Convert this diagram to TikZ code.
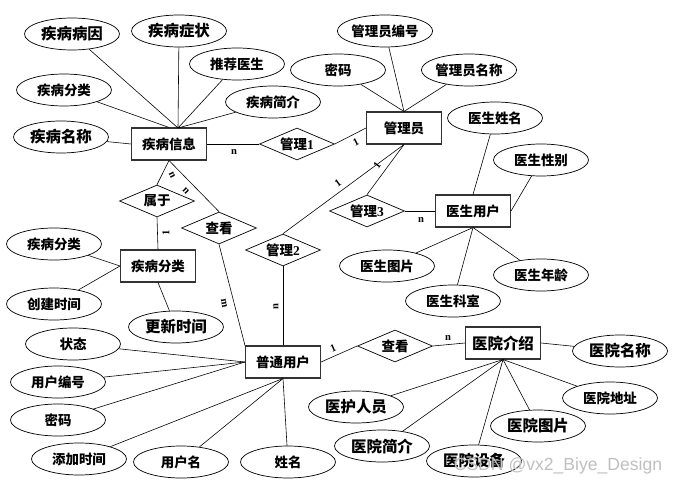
\documentclass[tikz,border=0pt]{standalone}
\usepackage{fontspec}
\setmainfont{Liberation Serif}
\newfontfamily\cjk{Noto Sans CJK SC}
\newfontfamily\wmfont{Liberation Sans}
\usetikzlibrary{shapes.geometric}

\begin{document}
\begin{tikzpicture}[x=0.03cm, y=-0.03cm,
  entity/.style={draw=black!80, line width=0.9pt, minimum width=2.25cm, minimum height=0.96cm, inner sep=0pt, font=\cjk\bfseries\fontsize{11.5}{13}\selectfont},
  attr/.style={draw, ellipse, line width=0.6pt, minimum width=2.85cm, minimum height=0.96cm, inner sep=0pt, font=\cjk\bfseries\fontsize{11.5}{13}\selectfont},
  big/.style={font=\cjk\bfseries\fontsize{13.2}{15}\selectfont},
  rel/.style={draw, diamond, aspect=2.3, line width=0.6pt, minimum width=2.25cm, minimum height=0.96cm, inner sep=0pt, font=\cjk\bfseries\fontsize{11.5}{13}\selectfont},
  card/.style={font=\bfseries\fontsize{9}{10}\selectfont, inner sep=0pt},
  link/.style={line width=0.5pt}]
  \useasboundingbox (0,0) rectangle (682,486);

  % entities
  \node[entity] (jbxx) at (169,144) {疾病信息};
  \node[entity] (gly) at (404,128) {管理员};
  \node[entity] (ysyh) at (473,211) {医生用户};
  \node[entity] (jbfl) at (158,266) {疾病分类};
  \node[entity] (ptyh) at (283,362) {普通用户};
  \node[entity, big] (yyjs) at (503,343) {医院介绍};
  \coordinate (jbtop) at (178,128);

  % relations
  \node[rel] (gl1) at (297,144) {管理{\rmfamily 1}};
  \node[rel] (sy) at (157,201) {属于};
  \node[rel] (ck1) at (219,228) {查看};
  \node[rel] (gl2) at (283,250) {管理{\rmfamily 2}};
  \node[rel] (gl3) at (367,211) {管理{\rmfamily 3}};
  \node[rel] (ck2) at (395,346) {查看};

  % attributes of 疾病信息
  \node[attr, big] (bingyin) at (72,34) {疾病病因};
  \node[attr, big] (zhengzhuang) at (179,31) {疾病症状};
  \node[attr] (tuijian) at (237,64) {推荐医生};
  \node[attr] (fenlei) at (64,90) {疾病分类};
  \node[attr] (jianjie) at (273,102) {疾病简介};
  \node[attr, big] (mingcheng) at (61,137) {疾病名称};

  % attributes of 管理员
  \node[attr] (glybh) at (385,31) {管理员编号};
  \node[attr] (glymm) at (338,70) {密码};
  \node[attr] (glymc) at (469,70) {管理员名称};

  % attributes of 医生用户
  \node[attr] (ysxm) at (495,118) {医生姓名};
  \node[attr] (ysxb) at (541,160) {医生性别};
  \node[attr] (ystp) at (387,266) {医生图片};
  \node[attr] (ysks) at (453,301) {医生科室};
  \node[attr] (ysnl) at (541,275) {医生年龄};

  % attributes of 疾病分类
  \node[attr] (flmc) at (54,244) {疾病分类};
  \node[attr] (cjsj) at (54,304) {创建时间};
  \node[attr, big] (gxsj) at (176,327) {更新时间};

  % attributes of 普通用户
  \node[attr] (zt) at (73,344) {状态};
  \node[attr] (yhbh) at (58,382) {用户编号};
  \node[attr] (yhmm) at (58,420) {密码};
  \node[attr] (tjsj) at (79,459) {添加时间};
  \node[attr] (yhm) at (181,462) {用户名};
  \node[attr] (xm) at (288,462) {姓名};

  % attributes of 医院介绍
  \node[attr, big] (hlry) at (356,407) {医护人员};
  \node[attr, big] (yyjj) at (382,446) {医院简介};
  \node[attr, big] (yysb) at (474,461) {医院设备};
  \node[attr, big] (yytp) at (538,426) {医院图片};
  \node[attr] (yydz) at (610,398) {医院地址};
  \node[attr, big] (yymc) at (620,351) {医院名称};

  % relation lines
  \draw[link] (jbxx.east) -- (gl1.west);
  \draw[link] (gl1.east) -- (gly.west);
  \draw[link] (gly.south) -- (gl3.north);
  \draw[link] (gly.south) -- (gl2.north);
  \draw[link] (gl3.east) -- (ysyh.west);
  \draw[link] (gl2.south) -- (ptyh.north);
  \draw[link] (jbxx.south) -- (sy.north);
  \draw[link] (jbxx.south) -- (ck1.north);
  \draw[link] (sy.south) -- (jbfl.north);
  \draw[link] (ck1.south) -- (ptyh.north west);
  \draw[link] (ptyh.east) -- (ck2.west);
  \draw[link] (ck2.east) -- (yyjs.west);

  % attribute lines
  \draw[link] (bingyin) -- (jbtop);
  \draw[link] (zhengzhuang) -- (jbtop);
  \draw[link] (tuijian) -- (jbtop);
  \draw[link] (jianjie) -- (jbtop);
  \draw[link] (fenlei) -- (jbxx.north);
  \draw[link] (mingcheng) -- (jbxx.west);
  \foreach \a in {glybh,glymm,glymc} \draw[link] (\a) -- (gly.north);
  \draw[link] (ysxm) -- (ysyh.north);
  \draw[link] (ysxb) -- (ysyh.east);
  \foreach \a in {ystp,ysks,ysnl} \draw[link] (\a) -- (ysyh.south);
  \draw[link] (flmc) -- (jbfl.west);
  \draw[link] (cjsj) -- (jbfl.west);
  \draw[link] (gxsj) -- (jbfl.south);
  \foreach \a in {zt,yhbh,yhmm} \draw[link] (\a) -- (ptyh.west);
  \foreach \a in {tjsj,yhm,xm} \draw[link] (\a) -- (ptyh.south);
  \draw[link] (yymc) -- (yyjs.east);
  \foreach \a in {hlry,yyjj,yysb,yytp,yydz} \draw[link] (\a) -- (yyjs.south);

  % cardinalities
  \node[card] (c1) at (234,152) {n};
  \node[card, rotate=27] (c2) at (356,142) {1};
  \node[card, rotate=54] (c3) at (377,165) {1};
  \node[card, rotate=37] (c4) at (338,183) {1};
  \node[card] (c5) at (421,220) {n};
  \node[card, rotate=90] (c6) at (276,307) {n};
  \node[card, rotate=-65] (c7) at (172,175) {n};
  \node[card, rotate=-46] (c8) at (186,191) {n};
  \node[card, rotate=90] (c9) at (166,233) {1};
  \node[card, rotate=-80] (c10) at (224,303) {m};
  \node[card, rotate=24] (c11) at (333,348) {1};
  \node[card] (c12) at (448,338) {n};

  \node[font=\wmfont\fontsize{15}{17}\selectfont, text=black!25] (wm) at (558,466) {CSDN @vx2\_Biye\_Design};
\end{tikzpicture}
\end{document}
